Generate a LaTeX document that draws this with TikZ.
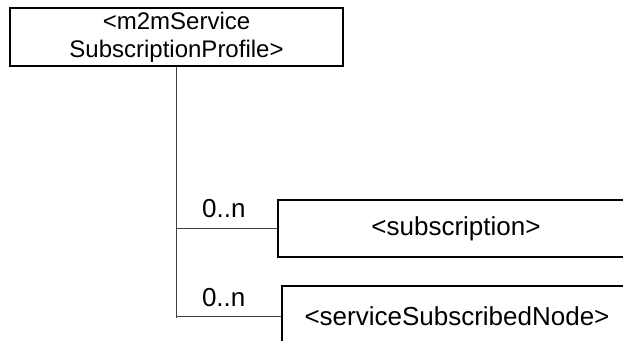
\documentclass[tikz,border=0pt]{standalone}
\usepackage{fontspec}
\setmainfont{Liberation Sans}
\usepackage{tikz}
\usetikzlibrary{positioning}
\tikzset{
  cls/.style={draw, fill=white, line width=1.3pt, inner sep=0pt, align=center, font=\fontsize{26}{30}\selectfont},
  top/.style={cls, line width=1.7pt, font=\fontsize{24}{28}\selectfont},
  mult/.style={font=\fontsize{26}{30}\selectfont, inner sep=0pt},
  link/.style={line width=0.9pt, draw=black!75},
}

\begin{document}
\begin{tikzpicture}[x=1pt, y=1pt]
\useasboundingbox (0,0) rectangle (623,340);
\clip (0,0) rectangle (623,340);
\node[top, minimum width=333pt, minimum height=58pt] (prof) at (176.5,303) {<m2mService\\SubscriptionProfile>};
\node[cls, minimum width=356pt, minimum height=57pt] (subs) at (456,111.5) {<subscription>};
\node[cls, minimum width=350pt, minimum height=60pt] (ssn) at (457,24) {<serviceSubscribedNode>};
% tree from the profile down to its children
\draw[link] (prof.south) -- ([yshift=-2pt]prof.south |- ssn.west);
\draw[link] (prof.south |- subs.west) -- (subs.west) node[mult, above=10pt, pos=0.47]{0..n};
\draw[link] (prof.south |- ssn.west) -- (ssn.west) node[mult, above=9pt, pos=0.45]{0..n};
\end{tikzpicture}
\end{document}
